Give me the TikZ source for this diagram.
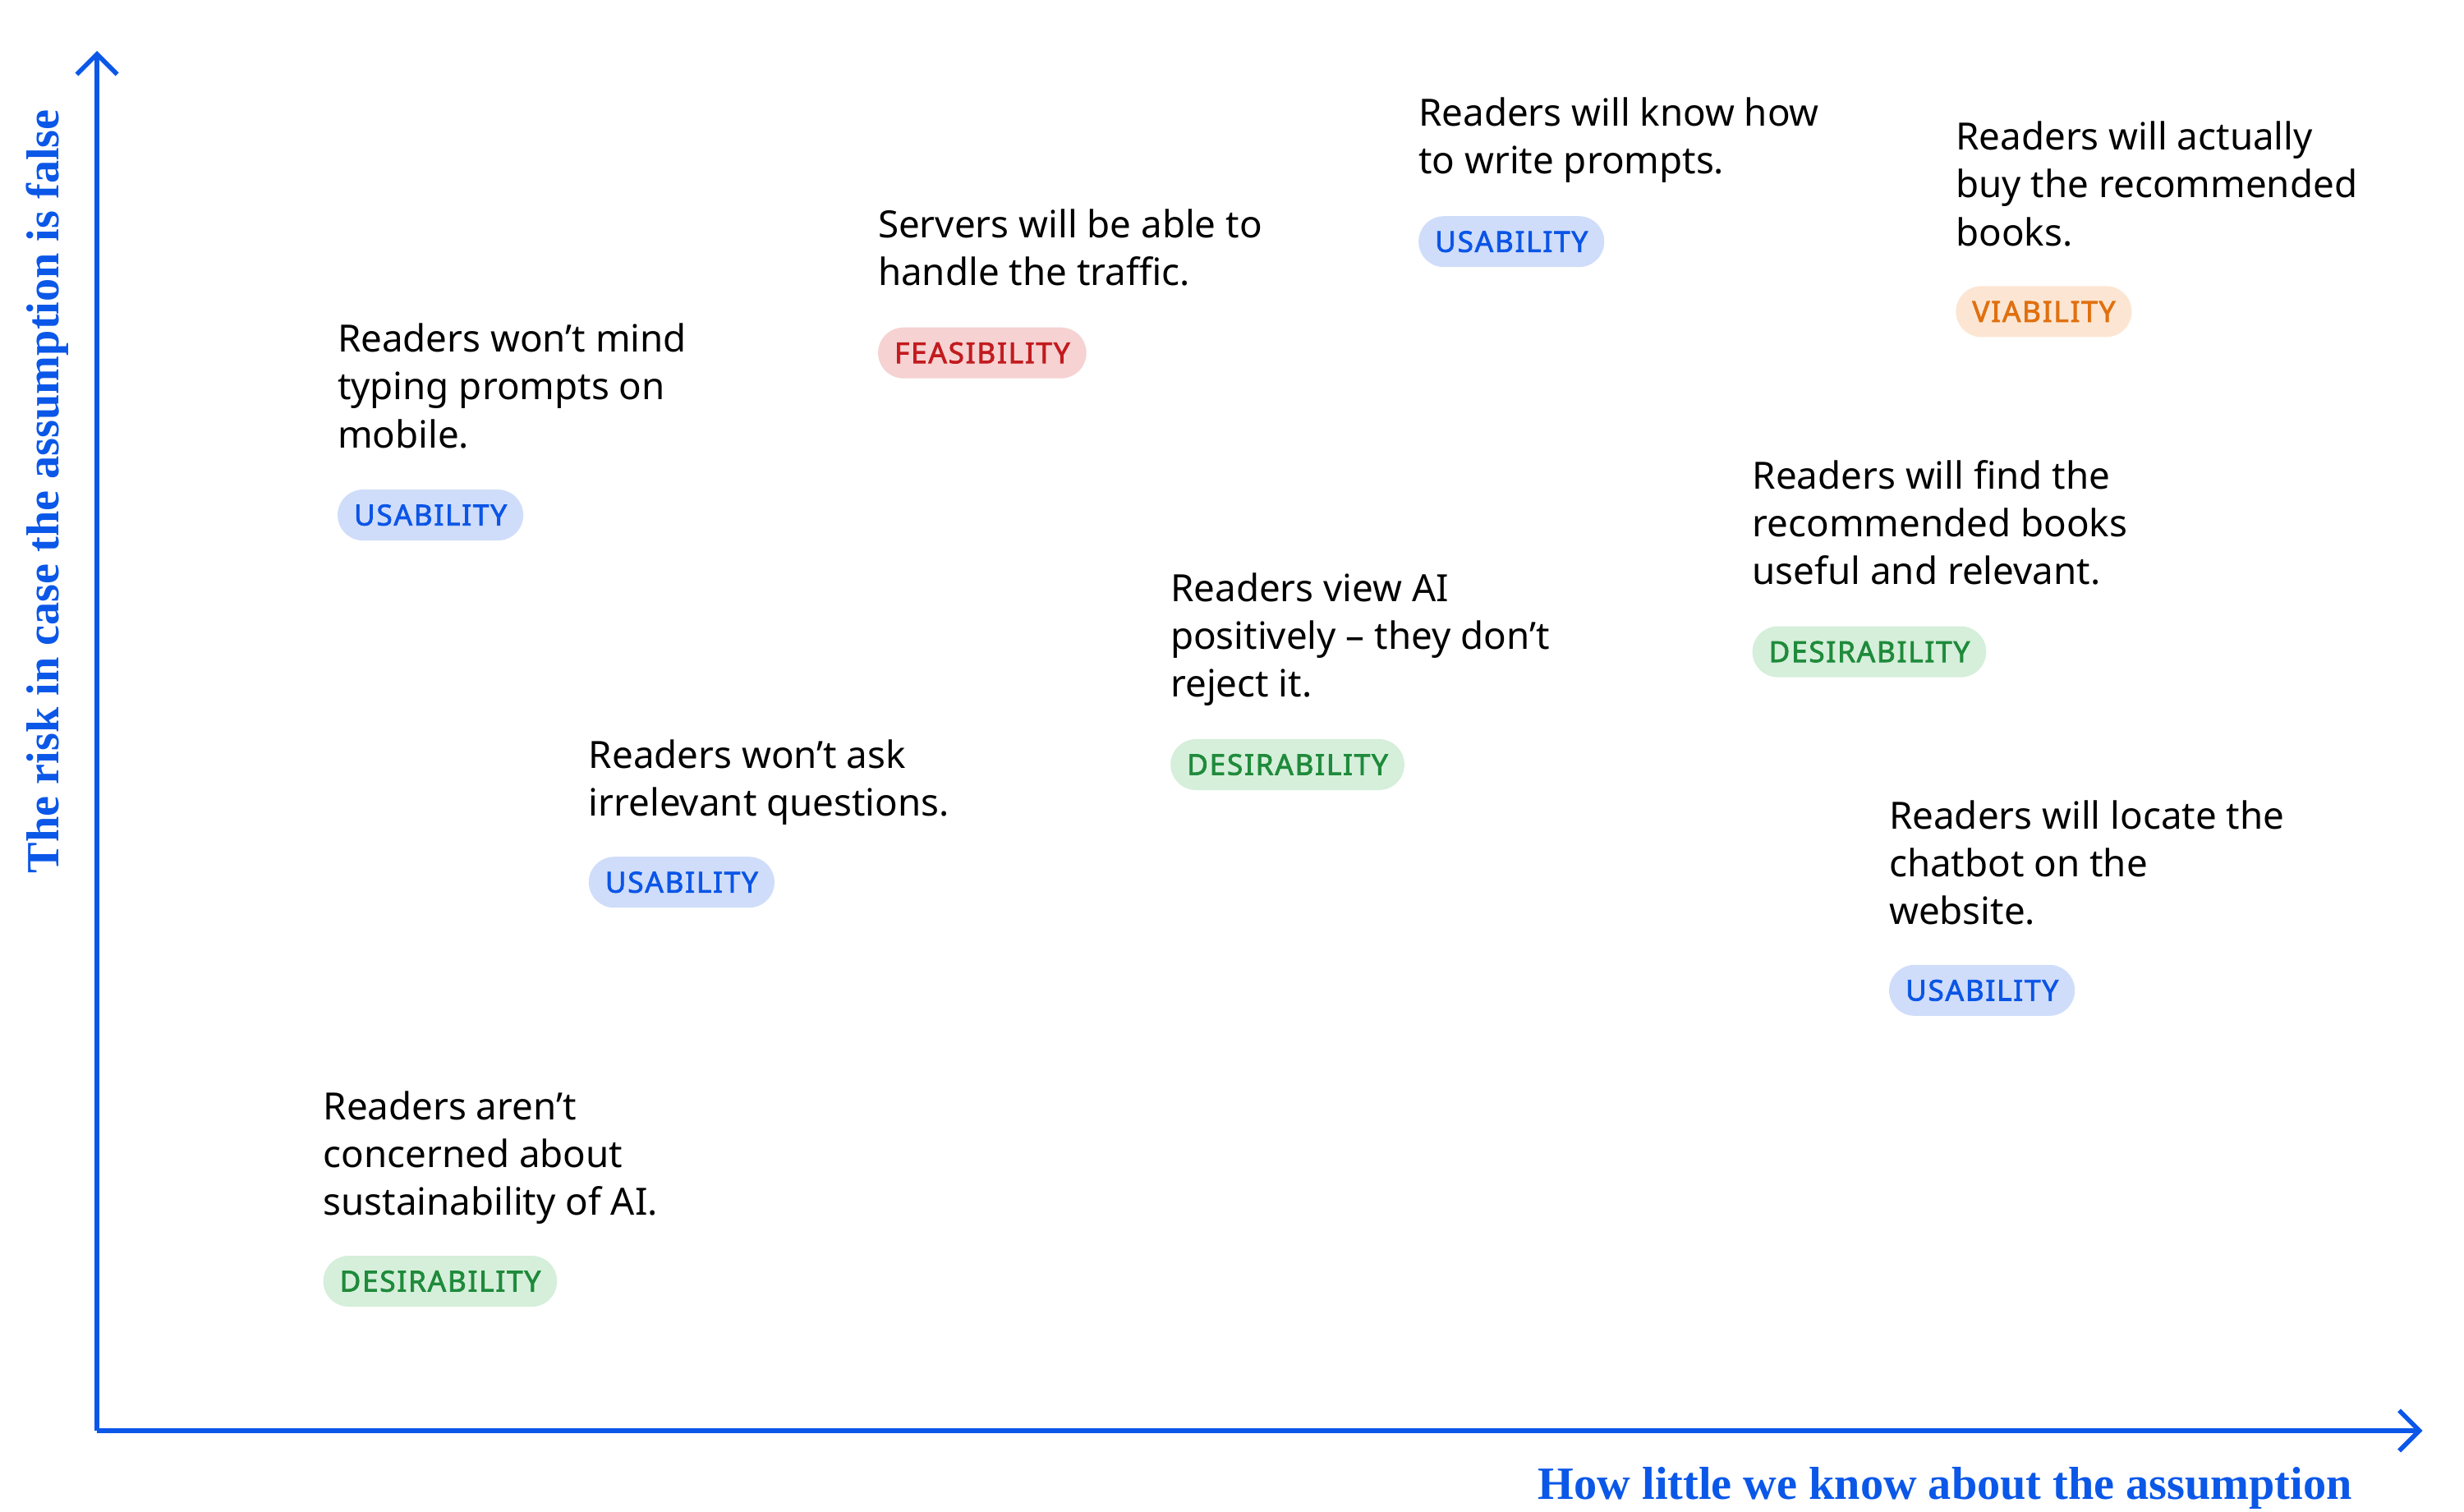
\documentclass[tikz,border=0pt]{standalone}
\usepackage{fontspec}
\setmainfont{Noto Sans}
\newfontfamily\tagfont[LetterSpace=5, FakeBold=2.2]{Noto Sans}
\newfontfamily\axisfont{Liberation Serif}
\usetikzlibrary{arrows.meta, positioning}
\definecolor{axisblue}{HTML}{0B57E8}
\definecolor{usabg}{HTML}{CFDDFA}\definecolor{usafg}{HTML}{0B55E6}
\definecolor{feabg}{HTML}{F6D2D2}\definecolor{feafg}{HTML}{C21B1F}
\definecolor{viabg}{HTML}{FCE6D3}\definecolor{viafg}{HTML}{E0700F}
\definecolor{desbg}{HTML}{D5EFDA}\definecolor{desfg}{HTML}{1F8A3B}
\tikzset{
  x=0.01935cm, y=-0.01935cm,
  note/.style={anchor=north west, inner sep=0pt, align=left, font=\fontsize{13}{16.6}\selectfont},
  tag/.style={anchor=west, inner xsep=0.2cm, inner ysep=0pt, minimum height=0.62cm,
    rounded corners=0.31cm, font=\tagfont\fontsize{10}{12}\selectfont},
  usability/.style={tag, fill=usabg, text=usafg},
  feasibility/.style={tag, fill=feabg, text=feafg},
  viability/.style={tag, fill=viabg, text=viafg},
  desirability/.style={tag, fill=desbg, text=desfg},
  axis/.style={draw=axisblue, line width=1.6pt, -{Straight Barb[length=7pt, width=14pt, line width=1.6pt]}},
}

\begin{document}
\begin{tikzpicture}
  \useasboundingbox (0,0) rectangle (1550,951);
  % axes
  \coordinate (origin) at (61,900);
  \coordinate (ytop) at (61,32);
  \coordinate (xend) at (1524,900);
  \draw[axis] (origin) -- (ytop);
  \draw[axis] (origin) -- (xend);
  \node[anchor=east, text=axisblue, font=\axisfont\bfseries\fontsize{16}{18}\selectfont] (xlabel) at (1486,936) {How little we know about the assumption};
  \node[rotate=90, text=axisblue, font=\axisfont\bfseries\fontsize{16}{18}\selectfont] (ylabel) at (30,309) {The risk in case the assumption is false};

  % assumptions
  \node[note] (mobile) at (212,203) {Readers won’t mind\\typing prompts on\\mobile.};
  \node[usability] (mobiletag) at (212,324) {USABILITY};

  \node[note] (servers) at (552,131) {Servers will be able to\\handle the traffic.};
  \node[feasibility] (serverstag) at (552,222) {FEASIBILITY};

  \node[note] (prompts) at (892,61) {Readers will know how\\to write prompts.};
  \node[usability] (promptstag) at (892,152) {USABILITY};

  \node[note] (buy) at (1230,76) {Readers will actually\\buy the recommended\\books.};
  \node[viability] (buytag) at (1230,196) {VIABILITY};

  \node[note] (useful) at (1102,289) {Readers will find the\\recommended books\\useful and relevant.};
  \node[desirability] (usefultag) at (1102,410) {DESIRABILITY};

  \node[note] (viewai) at (736,360) {Readers view AI\\positively – they don’t\\reject it.};
  \node[desirability] (viewaitag) at (736,481) {DESIRABILITY};

  \node[note] (questions) at (370,465) {Readers won’t ask\\irrelevant questions.};
  \node[usability] (questionstag) at (370,555) {USABILITY};

  \node[note] (locate) at (1188,503) {Readers will locate the\\chatbot on the\\website.};
  \node[usability] (locatetag) at (1188,623) {USABILITY};

  \node[note] (sustain) at (203,686) {Readers aren’t\\concerned about\\sustainability of AI.};
  \node[desirability] (sustaintag) at (203,806) {DESIRABILITY};
\end{tikzpicture}
\end{document}
